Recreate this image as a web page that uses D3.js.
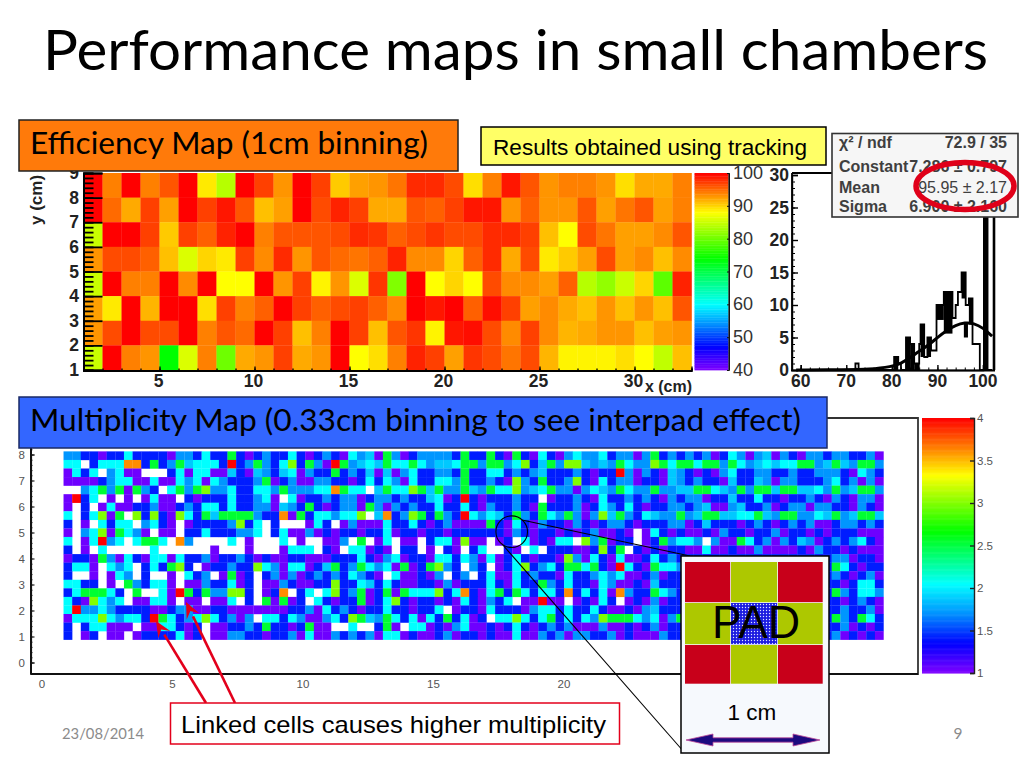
<!DOCTYPE html>
<html>
<head>
<meta charset="utf-8">
<script src="https://cdn.jsdelivr.net/npm/d3@7"></script>
<style>html,body{margin:0;padding:0;background:#fff}svg{display:block}</style>
</head>
<body>
<svg id="slide" width="1024" height="768"></svg>
<script>
// ---------- data ----------
const effRow9 = [100,94,100,94,96,100,89,84,100,97,93,100,97,90.5,92.5,93,94.5,98,98,96.5,89.5,94,99,96,93,94,94,93,89.5,92,92,94];
const effRow8 = [100,95,92,97,92.5,100,97,99,96,91,92.5,100,96.5,98.5,97,92,92,96,95.5,97,99,99,93,95.5,93,93,96,92.5,94.5,96,92.5,94];
const effRow7 = [85,100,100,97,90.5,97,95.5,98.5,100,94,96,96,96,96.5,98,97.5,95.5,96.5,97.5,96.5,96.5,98,98,97,91,88,96.5,94.5,92.5,92.5,93.5,96];
const effRow6 = [93,96.5,96.5,95.5,91,86,90,89,97,93.5,98,93,96,95,94.5,95.5,98.5,93.5,93.5,90,95.5,98,92,96.5,89,90.5,92.5,96.5,92.5,93.5,91,93.5];
const effRow5 = [85,100,94,94,100,93.5,100,88,88,100,93,97,88.5,93,86,97.5,81,100,88,90,88,96.5,93.5,93.5,92.5,95.5,84,82,85,90,79,98.5];
const effRow4 = [92.5,89,100,91.5,100,100,89.5,97,94,95.5,100,97,95.5,96.5,97,95.5,93.5,100,99,100,95.5,99.5,97,92.5,93.5,92,91,93,91,93,91,96];
const effRow3 = [93,96.5,100,96.5,96.5,100,94,96,95,100,97,91,94,100,97,91,96,97.5,88.5,99,99.5,96.5,93.5,97,93.5,91.5,92,93,93,91,92.5,93];
const effRow2 = [85,100,94,93,74,86,94,80,92,93,97,92,93,100,88,89.5,94,98.5,97,92.5,97.5,96.5,94.5,96.5,91.5,88.5,88.5,88.5,89.5,88,84.5,91];
const effRows = [effRow9,effRow8,effRow7,effRow6,effRow5,effRow4,effRow3,effRow2];
const effColorValues = [40,47,54,60,67,74,81,88,94,100];
const rainbow = ["#8000ff","#0000ff","#0090ff","#00ffff","#00ff80","#00ff00","#80ff00","#ffff00","#ff8000","#ff0000"];
const effXTicks = [5,10,15,20,25,30];
const effYTicks = [1,2,3,4,5,6,7,8,9];
const effBarTicks = [40,50,60,70,80,90,100];

const histBins   = [60,72,72.7,80.5,81.4,82,83.1,84,84.9,86,86.3,87.1,87.8,88.6,89.8,91.4,93.3,94,94.5,95.3,96.2,96.9,97.7,99.3,100.2,101,102];
const histCounts = [0,1,0,2,1,0,5,4,1,4,7,2,5,3,10,12,8,10,12,15,10,11,4,0,30,0,0];
const heavyFrom = [80.5,83.1,84,84.9,86.3,87.8,89.8,91.4,95.3,95.8,96.9,100.2];
const heavyTo   = [81.4,84,84.9,86.1,87.1,88.6,91.4,93.3,96.2,96.7,97.7,101];
const heavyLow  = [0,0,0,0,2,2,7.7,5.6,11,5,7,0];
const heavyHigh = [2,5,4,1,7,5,10,12,15,7.2,11,30];
const fitX = [59,70,75,80,82,84,86,88,90,92,94,96,98,100,102];
const fitY = [0,0.05,0.1,0.5,1,1.9,2.9,3.8,5,6.1,6.9,7.3,7.2,6.5,5.2];
const histXTicks = [60,70,80,90,100];
const histYTicks = [0,5,10,15,20,25,30];
const statsNames = ["\u03C7\u00B2 / ndf","Constant","Mean","Sigma"];
const statsValues = ["72.9 / 35","7.286 \u00B1 0.797","95.95 \u00B1 2.17","6.900 \u00B1 2.160"];

const multRows = [
"AABBPBBCBB BBPAABCBBG BPBABBCBPB ABPCATPGAP BAAAABGBBG BPGBPCBPAC AACBAAPAGB ABABAPBCAP ATPABPAABA ABBAP",
"CCWBCCCOOB GBAGTCCCBR BAGABCLBGA PRGATCTGCC GCATTCGGAG GACLBTGALL TATAGCAALG CGGCGGAGCA TCTCCGGATG TAGGA",
"PCBCWACPPW WWBCPCCPPT BPTABTCPAB BGBABTPTPA CBBAABGBBC CBABATBBBA BPBBRAPABP TABPBPACBB AABBABBAAA BPCAB",
"PPPPBACCPP CPPCACPCAB BBAGPBAPPA ABBPBCBCAP CBBCCAGBBA BPLABGBBAL BPCBAAPBBP TABABBPTBB TAPAABBBAC BAPAP",
"WWACGAGPGA BWCGAGLAAC BBCCAGAAAC COGCCWTGCC LGTGAAGTAG CCLATCGAAP ACTAGCAAGA ATTGGCTAGA GGTGGTTCAG ATGGA",
"PRBCWPWPWP CPPWBPBBBC BBACPWCPBB ABAAPBAABA BBTCPBRBPB BBABBWPBBA BPCBBABABP ABAAPBBTBB CBBPBBABPA BPAAP",
"PWBWPCPPBB APPBABCCBC BBAAPTABGB PBAAPGAPAB ABBCBBCBPA BBABPGBBBA PBCABCBPBB AABATPPATB BAPBAAPAAB BPABP",
"CWBCLPGWLB LBPLCBGTGG GGABBOPGBC CACCLWTOBA LGBGABRCAC TBGABGCAGA PALTGABCTA AGATGGTTCC GTAGGAACTG ATGGT",
"BWPWCBCCWA CBPWPBBBBA LBCWBWWWPC BWPAPPPCBB CBPBAPPPPG BPCBPABBPA BPBAABPBBB AAPBTBBBPB ABPBABAPPB AABAB",
"PWACLPGCAP WPPWBBCBBB AACWBCPPAP BPBBPBBCPB BPBBPBBBBB BPABPBBPBP BAPPBPWPCB PBPPBPABBP BBAPBBPBPB BBPPP",
"CWPCRACWCG GCWOAWWWWC WPWWWCWPWW PPAWGWPCWP PWBCCPLPPW PBWCPBPCCW LAGPBBWPBG ACCAWAPPGC BAPABTAPBA BACBP",
"BWPWCWWWWW CWWWWWWPWW WPWWWPCCCW BPWCCPBPWB BWPWBPWBCW WBPWCWBBBP PBLBGWBPBP BBPPCPPBPP APPPPBPABB PBPPP",
"PBBPGAPCBP CCPCBBAPBB ABPBPPBBPP PBBBCBPACP BBPCCBCAPC PBCBPBBPLA PCBPCPPBCB ABBBBBBBBB BBBBBBBBBA APBBP",
"BCCPWCACWB CBGLBWPBBA BBLCAPCCPB TGBAGCACPG PBGLABWABW PBCLBACBGG CGBPRCBPGC CABBBBBBBB BBBBBBBBBG CBPBB",
"BWWPWPCAWB WWPWCBAWPG PBWBAPAPBA BABCABPWCP PBPAWBAWBC PPCBABBPCB BACACPPBAP BBBBBBBBBB BBBBBBBBBA BPBAP",
"CCBBWPWGAB CCPWPPABBC PBWPPABPPB BLBBCTBCBP PBBPAPBBBC BPCBBGABCB BPCAPPBPTB BBBBBBBBBB BBBBBBBBBB PBCCB",
"BCGGGCBWGW WCPRGBGAAL LBWPBOWBCW CLBAGPBGPG CCCLBCOBPC GBGCBCCBOB CBCPOABBGC ABBBBBBBBB BBBBBBBBBG ABCCA",
"CBPLCACWPP CCPWPPWPPC WBWGPGPBWC BPBBGPBCLB PBBPBPCBPA BCWPPRPPWP BPCBWPBPAP BBBBBBBBBB BBBBBBBBBB PBABP",
"CRAACABBBB PPBAAPPBBP PPPPPPBBAP CBABPBBCBB PBBCWPBBPC BBBPACCBCB BCBPPBPATB BBBBBBBBBB BBBBBBBBBB ABBAP",
"PCCCLCACCB RGCBACLCBA PAWCCBCAPP ACBLGTAGCB CPCBGBCPBW CCLCBCGBCB CALGGGCACP AGBBBBBBBB BBBBBBBBBG ABGCB",
"BWBCCPPPWP PCCBPBWPPB BABGBBPBGP PWWCWWBGPW CCPBPACPPB PBCBPBABAP PPAPPBPBAP BBBBBBBBBB BBBBBBBBBB APBPB",
"BWPBWPPWPB BBBCPBWPPA ABBPBBAPCP PABABAPCCP BPPBAPBBPB PPCPPABAPA ABBAPBPPPA BBBBBBBBBB BBBBBBBBBA PBPBP"
];
const multCodes  = ["P","B","A","T","C","G","L","O","R"];
const multValues = [1.05,1.42,1.72,1.88,2.05,2.55,3.0,3.62,4.0];
const multColorValues = [1,1.35,1.7,2.05,2.35,2.67,3,3.33,3.65,4];
const multXTicks = [0,5,10,15,20];
const multYTicks = [0,1,2,3,4,5,6,7,8];
const multBarTicks = [1,1.5,2,2.5,3,3.5,4];
const padColors = [["#c8001a","#adc800","#c8001a"],["#adc800","url(#padDots)","#adc800"],["#c8001a","#adc800","#c8001a"]];

// ---------- drawing ----------
const svg = d3.select("#slide");
const SANS = "'Liberation Sans', Arial, sans-serif";
const CAL = "Lato, 'Open Sans', sans-serif";
svg.append("rect").attr("width",1024).attr("height",768).attr("fill","#fff");

const defs = svg.append("defs");
const pat = defs.append("pattern").attr("id","padDots").attr("width",3).attr("height",3).attr("patternUnits","userSpaceOnUse");
pat.append("rect").attr("width",3).attr("height",3).attr("fill","#1c1ce0");
pat.append("circle").attr("cx",1.5).attr("cy",1.5).attr("r",0.7).attr("fill","#dfe6ff");
defs.append("filter").attr("id","softA").append("feGaussianBlur").attr("stdDeviation",0.35);
defs.append("filter").attr("id","softB").append("feGaussianBlur").attr("stdDeviation",0.6);

function label(sel,x,y,str,o={}){
  const t = sel.append("text").attr("x",x).attr("y",y).text(str)
    .attr("font-family",o.font||SANS).attr("font-size",o.size||14)
    .attr("fill",o.fill||"#000").attr("text-anchor",o.anchor||"start");
  if(o.weight) t.attr("font-weight",o.weight);
  if(o.len) t.attr("textLength",o.len).attr("lengthAdjust","spacingAndGlyphs");
  return t;
}
function box(sel,x,y,w,h,fill,stroke,sw){
  return sel.append("rect").attr("x",x).attr("y",y).attr("width",w).attr("height",h)
    .attr("fill",fill).attr("stroke",stroke).attr("stroke-width",sw);
}
function styleAxis(g,color,w){
  g.selectAll("line,path").attr("stroke",color).attr("stroke-width",w);
  return g;
}

// title
label(svg,43,70,"Performance maps in small chambers",{font:CAL,size:57,len:945});

// ---- efficiency map ----
const xE = d3.scaleLinear([1,33],[83.5,691.5]);
const yE = d3.scaleLinear([1,9],[370,173]);
const colE = d3.scaleLinear().domain(effColorValues).range(rainbow);
const eff = svg.append("g");
const effCells = eff.append("g").attr("filter","url(#softA)");
effRows.forEach((row,i)=>{
  const yTop = 9-i;
  effCells.append("g").selectAll("rect").data(row).join("rect")
    .attr("x",(d,j)=>xE(1+j)).attr("y",yE(yTop))
    .attr("width",(d,j)=>xE(2+j)-xE(1+j)+0.3).attr("height",yE(yTop-1)-yE(yTop)+0.3)
    .attr("fill",d=>colE(d));
});
// y comb ticks
const yCombMinor = d3.axisRight(yE).tickValues(d3.range(1,9.001,0.2)).tickSize(10).tickFormat("");
styleAxis(eff.append("g").attr("transform","translate(83.5,0)").call(yCombMinor),"#000",1.8);
const yCombMajor = d3.axisRight(yE).tickValues(effYTicks).tickSize(19).tickFormat("");
styleAxis(eff.append("g").attr("transform","translate(83.5,0)").call(yCombMajor),"#000",1.8);
const xMinorE = d3.axisTop(xE).tickValues(d3.range(1,33.5,1)).tickSize(2).tickFormat("");
styleAxis(eff.append("g").attr("transform","translate(0,370.5)").call(xMinorE),"#000",1.3);
const xMajorE = d3.axisTop(xE).tickValues(effXTicks).tickSize(4).tickFormat("");
styleAxis(eff.append("g").attr("transform","translate(0,370.5)").call(xMajorE),"#000",1.3);
eff.append("line").attr("x1",83.5).attr("x2",692).attr("y1",371).attr("y2",371).attr("stroke","#000").attr("stroke-width",2);
effXTicks.forEach(v=>label(eff,xE(v)-1,387,v,{size:17.5,weight:"bold",anchor:"middle",fill:"#222"}));
effYTicks.forEach(v=>label(eff,79,yE(v)+6,v,{size:17.5,weight:"bold",anchor:"end",fill:"#222"}));
label(eff,692,392,"x (cm)",{size:16,weight:"bold",anchor:"end",fill:"#222",len:47});
label(eff,0,0,"y (cm)",{size:17,weight:"bold",anchor:"middle",fill:"#222"}).attr("transform","translate(42,200) rotate(-90)");

// efficiency colour bar
const yBarE = d3.scaleLinear([40,100],[370,173]);
const barE = svg.append("g");
barE.selectAll("rect").data(d3.range(40,100,0.5)).join("rect")
  .attr("x",694.5).attr("width",34).attr("y",d=>yBarE(d+0.5)).attr("height",2).attr("fill",d=>colE(d+0.25));
barE.append("line").attr("x1",729).attr("x2",729).attr("y1",173).attr("y2",370).attr("stroke","#111").attr("stroke-width",1.2);
styleAxis(barE.append("g").attr("transform","translate(729,0)").call(d3.axisLeft(yBarE).tickValues(effBarTicks).tickSize(2).tickFormat("")),"#111",1);
effBarTicks.forEach(v=>label(barE,733,yBarE(v)+6,v,{size:18,fill:"#333"}));

// ---- histogram ----
const xH = d3.scaleLinear([60,100],[800.7,983]);
const yH = d3.scaleLinear([0,30],[370,175]);
const hist = svg.append("g");
hist.append("path").attr("fill","none").attr("stroke","#000").attr("stroke-width",1.8)
  .attr("d",d3.line().x((d,i)=>xH(histBins[i])).y(d=>yH(d)).curve(d3.curveStepAfter)(histCounts));
hist.append("g").selectAll("rect").data(heavyFrom).join("rect")
  .attr("x",d=>xH(d)).attr("width",(d,i)=>xH(heavyTo[i])-xH(d))
  .attr("y",(d,i)=>yH(heavyHigh[i])).attr("height",(d,i)=>yH(heavyLow[i])-yH(heavyHigh[i]))
  .attr("fill","#000");
hist.append("path").attr("fill","none").attr("stroke","#000").attr("stroke-width",3)
  .attr("d",d3.line().x((d,i)=>xH(fitX[i])).y(d=>yH(d)).curve(d3.curveBasis)(fitY));
// frame
hist.append("path").attr("fill","none").attr("stroke","#000").attr("stroke-width",1.8)
  .attr("d","M792,173 H994");
hist.append("line").attr("x1",994).attr("x2",994).attr("y1",173).attr("y2",370).attr("stroke","#000").attr("stroke-width",2.6);
hist.append("line").attr("x1",791).attr("x2",995).attr("y1",370.5).attr("y2",370.5).attr("stroke","#000").attr("stroke-width",2.2);
hist.append("line").attr("x1",792).attr("x2",792).attr("y1",173).attr("y2",371).attr("stroke","#000").attr("stroke-width",1.8);
styleAxis(hist.append("g").attr("transform","translate(792,0)").call(d3.axisRight(yH).tickValues(d3.range(0,30.5,1)).tickSize(3).tickFormat("")),"#000",1);
styleAxis(hist.append("g").attr("transform","translate(792,0)").call(d3.axisRight(yH).tickValues(histYTicks).tickSize(6).tickFormat("")),"#000",1.4);
styleAxis(hist.append("g").attr("transform","translate(0,370)").call(d3.axisTop(xH).tickValues(histXTicks).tickSize(5).tickFormat("")),"#000",1.4);
styleAxis(hist.append("g").attr("transform","translate(0,370)").call(d3.axisTop(xH).tickValues(d3.range(60,102,2)).tickSize(2.5).tickFormat("")),"#000",1);
histXTicks.forEach(v=>label(hist,xH(v),387,v,{size:17.5,weight:"bold",anchor:"middle",fill:"#222"}));
histYTicks.forEach(v=>label(hist,789,yH(v)+6,v,{size:17.5,weight:"bold",anchor:"end",fill:"#222"}));

// results box
box(svg,481,127,345,38,"#ffff66","#000",1.5);
label(svg,493,155,"Results obtained using tracking",{size:21.5,len:314});

// stats box
const st = svg.append("g");
box(st,832,133.5,186,83.5,"#f6f6f6","#333",1.6);
const statY = [148,172,193,212];
statsNames.forEach((n,i)=>{
  label(st,839,statY[i],n,{size:16,weight:"bold",fill:"#3f3f3f"});
  label(st,1007,statY[i],statsValues[i],{size:16,weight:i===2?"normal":"bold",anchor:"end",fill:"#3f3f3f"});
});
st.append("ellipse").attr("cx",965).attr("cy",186).attr("rx",49).attr("ry",23.5)
  .attr("fill","none").attr("stroke","#e00019").attr("stroke-width",5.5);

// orange heading
box(svg,19,120,439,51,"#ff7a0a","#222",1.5);
label(svg,30,154,"Efficiency Map (1cm binning)",{font:CAL,size:30,len:398});

// ---- multiplicity map ----
const xM = d3.scaleLinear([0,20],[42,564]);
const yM = d3.scaleLinear([0,8],[662.5,454.5]);
const colM = d3.scaleLinear().domain(multColorValues).range(rainbow);
const codeValue = d3.scaleOrdinal().domain(multCodes).range(multValues);
const multStartX = 0.825, multStartY = 8.12, multBinX = 0.3307, multBinY = 0.3292;
const bottom = svg.append("g");
// frame
bottom.append("path").attr("fill","none").attr("stroke","#333").attr("stroke-width",1.8).attr("d","M31,418 H918 V674 H31 Z");
const mult = bottom.append("g").attr("filter","url(#softB)");
multRows.forEach((str,r)=>{
  const cells = str.replace(/ /g,"").split("");
  mult.append("g").selectAll("rect").data(cells.map((c,j)=>({c,j})).filter(d=>d.c!=="W")).join("rect")
    .attr("x",d=>xM(multStartX+d.j*multBinX)).attr("y",yM(multStartY-r*multBinY))
    .attr("width",xM(multBinX)-xM(0)+0.2).attr("height",yM(0)-yM(multBinY)+0.2)
    .attr("fill",d=>colM(codeValue(d.c)));
});
styleAxis(bottom.append("g").attr("transform","translate(31,0)").call(d3.axisRight(yM).tickValues(d3.range(0,8.3,0.2)).tickSize(1.5).tickFormat("")),"#222",1);
styleAxis(bottom.append("g").attr("transform","translate(31,0)").call(d3.axisRight(yM).tickValues(multYTicks).tickSize(3.5).tickFormat("")),"#222",1.2);
bottom.append("line").attr("x1",31).attr("x2",31).attr("y1",448).attr("y2",674).attr("stroke","#111").attr("stroke-width",2);
bottom.append("line").attr("x1",31).attr("x2",918).attr("y1",674).attr("y2",674).attr("stroke","#111").attr("stroke-width",2);
const NARROW = "'Liberation Sans Narrow', 'Liberation Sans', sans-serif";
multXTicks.forEach(v=>label(bottom,xM(v),688,v,{font:NARROW,size:11.5,anchor:"middle",fill:"#555"}));
multYTicks.forEach(v=>label(bottom,25,yM(v)+4,v,{font:NARROW,size:11.5,anchor:"end",fill:"#555"}));

// multiplicity colour bar
const yBarM = d3.scaleLinear([1,4],[673,418]);
const barM = svg.append("g");
barM.selectAll("rect").data(d3.range(1,4,0.01)).join("rect")
  .attr("x",922).attr("width",52).attr("y",d=>yBarM(d+0.01)).attr("height",1.4).attr("fill",d=>colM(d+0.005));
styleAxis(barM.append("g").attr("transform","translate(974,0)").call(d3.axisLeft(yBarM).tickValues(multBarTicks).tickSize(4).tickFormat("")),"#222",1.4);
multBarTicks.forEach(v=>label(barM,977,yBarM(v)+4,v,{font:NARROW,size:11.5,fill:"#555"}));

// blue heading
box(svg,19,397,808,51,"#3366ff","#1a2a66",1.5);
label(svg,30,431,"Multiplicity Map (0.33cm binning to see interpad effect)",{font:CAL,size:30,len:771});

// magnifier
svg.append("circle").attr("cx",511.7).attr("cy",531.7).attr("r",15.8).attr("fill","none").attr("stroke","#000").attr("stroke-width",1.1);
svg.append("line").attr("x1",522).attr("y1",520).attr("x2",690).attr("y2",556).attr("stroke","#000").attr("stroke-width",1.1);
svg.append("line").attr("x1",502).attr("y1",544).attr("x2",684).attr("y2",752).attr("stroke","#000").attr("stroke-width",1.1);

// pad box
const pad = svg.append("g");
box(pad,681,556,148,197,"#f6f9fd","#000",1.5);
const padXs = [685,731,778,823.5], padYs = [562,603,645,684.5];
padColors.forEach((row,i)=>row.forEach((c,j)=>{
  pad.append("rect").attr("x",padXs[j]).attr("y",padYs[i])
    .attr("width",padXs[j+1]-padXs[j]-0.8).attr("height",padYs[i+1]-padYs[i]-0.8).attr("fill",c);
}));
label(pad,756,638,"PAD",{size:47,anchor:"middle",len:88});
label(pad,752,720,"1 cm",{size:22.5,anchor:"middle"});
pad.append("path").attr("fill","#1c0a80").attr("stroke","#c04a9a").attr("stroke-width",0.8)
  .attr("d","M686,740 L713,734 V737.8 H793 V734 L820,740 L793,746 V742.2 H713 V746 Z");

// red call-out
const callout = svg.append("g");
const arrow = (x1,y1,x2,y2)=>{
  const a = Math.atan2(y2-y1,x2-x1), L=16, W=7;
  const bx = x2-L*Math.cos(a), by = y2-L*Math.sin(a);
  callout.append("line").attr("x1",x1).attr("y1",y1).attr("x2",bx).attr("y2",by).attr("stroke","#e3001b").attr("stroke-width",2.6);
  callout.append("path").attr("fill","#e3001b").attr("d",
    `M${x2},${y2} L${bx-W*Math.sin(a)},${by+W*Math.cos(a)} L${bx+6*Math.cos(a)},${by+6*Math.sin(a)} L${bx+W*Math.sin(a)},${by-W*Math.cos(a)} Z`);
};
arrow(206,703,156,621);
arrow(235,703,186,602);
box(callout,170.5,703,449,41,"#fff","#e3001b",1.5);
label(callout,181,733,"Linked cells causes higher multiplicity",{size:24,len:425});

// footer
label(svg,62,739,"23/08/2014",{font:CAL,size:15.5,fill:"#8b8b8b",len:82});
label(svg,958,739,"9",{font:CAL,size:15.5,fill:"#8b8b8b",anchor:"middle"});
</script>
</body>
</html>
